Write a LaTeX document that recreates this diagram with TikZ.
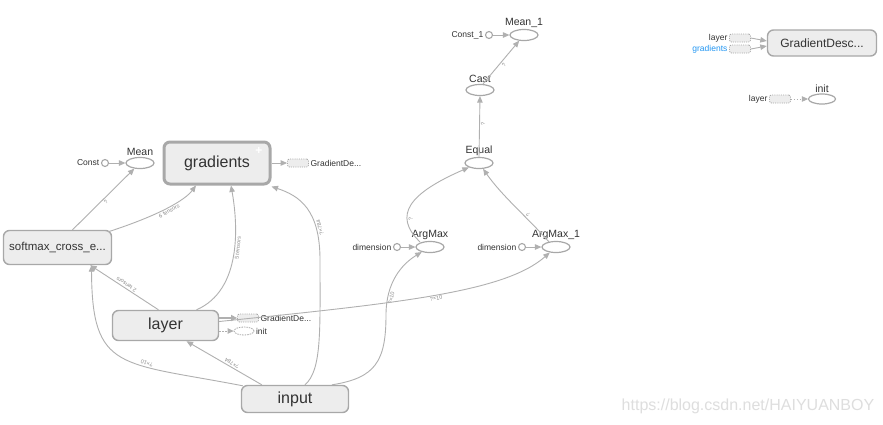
\documentclass[tikz,border=0pt]{standalone}
\usepackage{fontspec}
\setmainfont{Liberation Sans}
\usetikzlibrary{shapes.geometric,arrows.meta,calc}
\definecolor{ec}{HTML}{B0B0B0}
\definecolor{nb}{HTML}{A8A8A8}
\definecolor{nf}{HTML}{EDEDED}
\definecolor{tx}{HTML}{333333}
\definecolor{blu}{HTML}{2196F3}
\definecolor{wm}{HTML}{DEDEDE}
\definecolor{lt}{HTML}{8A8A8A}
\begin{document}
\begin{tikzpicture}[x=1pt,y=-1pt,
  meta/.style={draw=nb, fill=nf, rounded corners=6pt, line width=1.4pt, text=tx, inner sep=0pt},
  op/.style={ellipse, draw=nb, fill=white, line width=1.2pt, minimum width=28pt, minimum height=11pt, inner sep=0pt},
  cst/.style={circle, draw=nb, fill=white, line width=1.1pt, minimum size=7pt, inner sep=0pt},
  ghost/.style={rectangle, draw=nb, dash pattern=on 1pt off 1.2pt, fill=nf, rounded corners=2pt, minimum width=21pt, minimum height=8pt, inner sep=0pt, line width=0.8pt},
  ghostell/.style={ellipse, draw=nb, dash pattern=on 1.5pt off 1pt, fill=white, minimum width=20pt, minimum height=8pt, inner sep=0pt, line width=0.8pt},
  lab/.style={text=tx, font=\fontsize{10.5}{11}\selectfont, inner sep=1pt},
  slab/.style={text=tx, font=\fontsize{8.5}{9}\selectfont, inner sep=1.5pt},
  arr/.style={-{Triangle[length=6.5pt,width=5.5pt]}},
  edge/.style={draw=ec, line width=0.9pt, arr},
  elabel/.style={text=lt, font=\fontsize{5.5}{6}\selectfont, inner sep=1.2pt, sloped, allow upside down, below}
]
\fill[white] (0,0) rectangle (883,424);
\useasboundingbox (0,0) rectangle (883,424);

% main nodes
\node[meta, line width=3pt, minimum width=106pt, minimum height=42pt, font=\fontsize{16}{16}\selectfont] (gradients) at (217,163) {gradients};
\node[text=white, font=\bfseries\fontsize{12}{12}\selectfont, inner sep=0pt] (plus) at (259,151) {+};
\node[meta, minimum width=108pt, minimum height=34pt, font=\fontsize{11.5}{12}\selectfont] (softmax) at (57.5,247.5) {softmax\_cross\_e...};
\node[meta, minimum width=106pt, minimum height=30pt, font=\fontsize{16}{16}\selectfont] (layer) at (165.5,325.5) {layer};
\node[meta, minimum width=107pt, minimum height=27pt, font=\fontsize{16}{16}\selectfont] (input) at (295,399) {input};

% Mean and Const
\node[op, label={[lab]above:Mean}] (Mean) at (140,163) {};
\node[cst, label={[slab]left:Const}] (Const) at (105,163) {};
\draw[edge] (Const) -- (Mean);

% gradient descent ghost next to gradients
\node[ghost, label={[slab, anchor=west]right:GradientDe...}] (gdA) at (298,163) {};
\draw[edge] (gradients) -- (gdA);

% ghosts next to layer
\node[ghost, label={[slab, anchor=west]right:GradientDe...}] (gdB) at (248,318) {};
\node[ghostell, label={[slab, anchor=west]right:init}] (initB) at (244,331) {};
\draw[draw=ec, line width=2pt, -{Triangle[length=6pt,width=6pt]}] ($(layer.east)+(0,-7.5)$) -- (gdB.west);
\draw[draw=ec, line width=0.9pt, dash pattern=on 1.5pt off 1.5pt, -{Triangle[length=6pt,width=5.5pt]}] ($(layer.east)+(0,5.5)$) -- (initB.west);

% ArgMax etc.
\node[op, label={[lab]above:ArgMax}] (ArgMax) at (430,247) {};
\node[cst, label={[slab]left:dimension}] (dimA) at (397,247) {};
\draw[edge] (dimA) -- (ArgMax);
\node[op, label={[lab]above:ArgMax\_1}] (ArgMaxB) at (556,247) {};
\node[cst, label={[slab]left:dimension}] (dimB) at (522,247) {};
\draw[edge] (dimB) -- (ArgMaxB);
\node[op, label={[lab]above:Equal}] (Equal) at (479,163) {};
\node[op, label={[lab]above:Cast}] (Cast) at (480,90) {};
\node[op, label={[lab]above:Mean\_1}] (MeanB) at (524,35) {};
\node[cst, label={[slab]left:Const\_1}] (ConstB) at (489,35) {};
\draw[edge] (ConstB) -- (MeanB);

% top-right auxiliary
\node[meta, minimum width=109pt, minimum height=26pt, font=\fontsize{12}{12}\selectfont] (gdesc) at (822,43) {GradientDesc...};
\node[ghost, label={[slab, anchor=east]left:layer}] (gL) at (740,38) {};
\node[ghost, label={[slab, anchor=east, text=blu]left:gradients}] (gG) at (740,49) {};
\draw[edge] (gL.east) -- ($(gdesc.west)+(0,-2)$);
\draw[edge] (gG.east) -- ($(gdesc.west)+(0,3)$);
\node[op, minimum width=27pt, minimum height=10pt, label={[lab]above:init}] (initC) at (822,99) {};
\node[ghost, label={[slab, anchor=east]left:layer}] (gL2) at (780,99) {};
\draw[draw=ec, line width=0.9pt, dash pattern=on 1.5pt off 1.5pt, -{Triangle[length=6pt,width=5.5pt]}] (gL2.east) -- (initC.west);

% data edges
\draw[edge] ($(softmax.north)+(15,0)$) -- (Mean) node[elabel, pos=.5] {?};
\draw[edge] ($(softmax.north east)+(-4,2)$) .. controls (160,215) and (185,200) .. ($(gradients.south)+(-21,0)$) node[elabel, pos=.5] {6 tensors};
\draw[edge] ($(layer.north)+(-7,0)$) -- ($(softmax.south east)+(-22,0)$) node[elabel, pos=.5] {2 tensors};
\draw[edge] ($(input.north west)+(2,1)$) .. controls (120,362) and (92,372) .. ($(softmax.south)+(34,0)$) node[elabel, pos=.35] {?×10};
\draw[edge] ($(input.north west)+(21,0)$) -- ($(layer.south)+(21,0)$) node[elabel, pos=.42] {?×784};
\draw[edge] ($(layer.north)+(31,0)$) .. controls (242,290) and (238,225) .. ($(gradients.south)+(14,0)$) node[elabel, pos=.55] {5 tensors};
\draw[edge] ($(input.north)+(10,0)$) .. controls (322,370) and (320,330) .. (320,260) .. controls (320,210) and (300,196) .. ($(gradients.south east)+(0,1)$) node[elabel, pos=.25] {?×784};
\draw[edge] ($(input.north)+(37,0)$) .. controls (375,378) and (386,362) .. (386,315) .. controls (386,282) and (402,264) .. (ArgMax) node[elabel, pos=.2] {?×10};
\draw[edge] ($(layer.east)+(0,-4)$) .. controls (400,303) and (505,292) .. (ArgMaxB) node[elabel, pos=.5] {?×10};
\draw[edge] ($(ArgMax.north)+(-10,1)$) .. controls (392,215) and (410,193) .. (Equal) node[elabel, pos=.3] {?};
\draw[edge] ($(ArgMaxB.north)+(-7,1)$) .. controls (528,218) and (502,196) .. (Equal) node[elabel, pos=.35] {?};
\draw[edge] (Equal.north) -- (Cast.south) node[elabel, pos=.55] {?};
\draw[edge] ($(Cast.north)+(3,0)$) -- (MeanB) node[elabel, pos=.5] {?};

% watermark
\node[text=wm, font=\fontsize{16}{16}\selectfont, inner sep=0pt] (wmark) at (748,406) {https://blog.csdn.net/HAIYUANBOY};
\end{tikzpicture}
\end{document}
